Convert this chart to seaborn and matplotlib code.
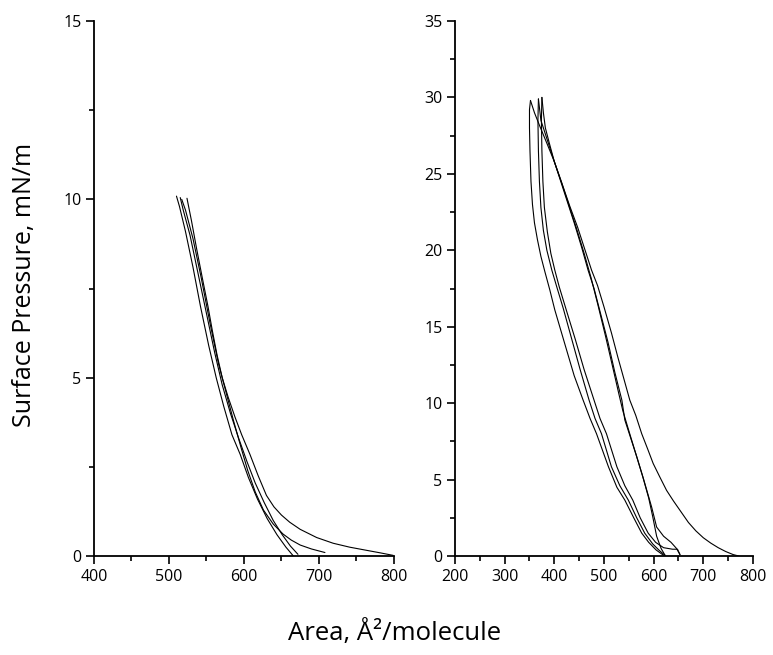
import numpy as np
import pandas as pd
import matplotlib
matplotlib.use('Agg')
import matplotlib.pyplot as plt
from matplotlib.ticker import MultipleLocator
import seaborn as sns

# Left panel isotherms (area, surface pressure)
left_a_x = [799, 782, 764, 741, 719, 697, 675, 661, 650, 640, 630, 619, 608, 597, 588, 579, 571,
            564, 558, 552, 545, 537, 530, 524]
left_a_y = [0.02, 0.09, 0.16, 0.25, 0.36, 0.52, 0.75, 0.95, 1.15, 1.38, 1.7, 2.25, 2.85, 3.4, 3.9, 4.45, 5.0,
            5.65, 6.3, 7.0, 7.74, 8.6, 9.4, 10.03]
left_b_x = [708, 690, 675, 663, 652, 639, 626, 615, 605, 596, 586, 576, 566, 555, 543, 532, 522, 517]
left_b_y = [0.1, 0.2, 0.31, 0.45, 0.62, 0.9, 1.29, 1.8, 2.4, 3.05, 3.8, 4.6, 5.4, 6.5, 7.8, 8.9, 9.7, 10.0]
left_c_x = [672, 662, 651, 639, 627, 615, 604, 593, 582, 571, 561, 550, 539, 528, 519, 515]
left_c_y = [0.05, 0.28, 0.6, 1.0, 1.5, 2.05, 2.65, 3.3, 4.0, 4.8, 5.7, 6.8, 7.9, 9.0, 9.7, 10.05]
left_d_x = [666, 656, 644, 631, 618, 606, 595, 584, 573, 563, 553, 542, 532, 522, 514, 510]
left_d_y = [0.0, 0.25, 0.6, 1.05, 1.6, 2.2, 2.85, 3.4, 4.2, 5.0, 5.9, 7.0, 8.1, 9.1, 9.8, 10.09]

# Right panel: three compression / expansion cycles
comp1_x = [772, 760, 745, 730, 715, 700, 685, 670, 655, 640, 626, 612, 599, 588, 576, 564, 552, 540, 528,
           515, 500, 487, 475, 462, 447, 431, 415, 400, 390, 382, 378, 375]
comp1_y = [0.0, 0.1, 0.3, 0.55, 0.85, 1.2, 1.65, 2.2, 2.9, 3.6, 4.3, 5.2, 6.06, 7.0, 8.0, 9.2, 10.2, 11.6, 13.0,
           14.6, 16.3, 17.7, 18.7, 20.0, 21.5, 22.9, 24.4, 25.8, 27.0, 28.0, 29.0, 30.0]
exp1_x = [375, 374, 375, 377, 380, 386, 393, 401, 410, 425, 442, 460, 480, 492, 505, 526, 542, 558,
          573, 589, 604, 620, 638, 648, 653]
exp1_y = [30.0, 28.5, 26.5, 24.5, 22.8, 21.2, 19.8, 18.7, 17.6, 16.0, 14.2, 12.2, 10.2, 9.0, 8.0, 5.84, 4.6, 3.66,
          2.5, 1.5, 0.9, 0.55, 0.45, 0.45, 0.1]
comp2_x = [653, 646, 635, 620, 606, 596, 580, 566, 553, 542, 536, 522, 508, 492, 480, 468, 455, 440,
           425, 410, 395, 383, 373, 368]
comp2_y = [0.1, 0.5, 0.9, 1.3, 1.9, 3.2, 5.0, 6.5, 7.8, 8.9, 10.2, 12.0, 14.0, 16.0, 17.5, 18.7, 20.2, 21.8,
           23.3, 24.8, 26.3, 27.5, 28.5, 29.9]
exp2_x = [368, 367, 368, 370, 373, 378, 385, 395, 405, 418, 435, 452, 470, 482, 495, 515, 532, 549,
          566, 582, 598, 612, 623]
exp2_y = [29.9, 28.5, 26.5, 24.5, 22.8, 21.3, 20.0, 18.7, 17.6, 16.2, 14.2, 12.2, 10.2, 9.0, 8.0, 5.84, 4.6, 3.66,
          2.5, 1.5, 0.8, 0.35, 0.05]
comp3_x = [623, 615, 606, 598, 590, 578, 564, 550, 538, 530, 518, 503, 488, 474, 460, 445, 430, 415,
           400, 385, 371, 360, 352]
comp3_y = [0.05, 0.5, 1.3, 2.6, 3.8, 5.2, 6.7, 8.2, 9.5, 10.6, 12.3, 14.4, 16.4, 18.2, 19.8, 21.4, 22.9, 24.4,
           25.8, 27.0, 28.1, 29.0, 29.8]
exp3_x = [352, 350, 350, 351, 353, 356, 360, 366, 373, 381, 391, 401, 420, 440, 458, 472, 485, 509, 526,
          542, 560, 576, 590, 605, 620]
exp3_y = [29.8, 29.2, 28.0, 26.5, 24.5, 23.0, 21.8, 20.7, 19.6, 18.6, 17.4, 16.1, 14.0, 11.8, 10.2, 9.0, 8.0, 5.84, 4.5,
          3.66, 2.5, 1.5, 0.9, 0.4, 0.05]


def to_frame(runs):
    parts = []
    for name, xs, ys in runs:
        parts.append(pd.DataFrame({'area': xs, 'pressure': ys, 'run': name}))
    return pd.concat(parts, ignore_index=True)


left_df = to_frame([('a', left_a_x, left_a_y), ('b', left_b_x, left_b_y),
                    ('c', left_c_x, left_c_y), ('d', left_d_x, left_d_y)])
right_df = to_frame([('c1', comp1_x, comp1_y), ('e1', exp1_x, exp1_y),
                     ('c2', comp2_x, comp2_y), ('e2', exp2_x, exp2_y),
                     ('c3', comp3_x, comp3_y), ('e3', exp3_x, exp3_y)])

sns.set_style('ticks')
plt.rcParams['font.family'] = ['Open Sans', 'DejaVu Sans']
plt.rcParams['text.color'] = 'black'

fig = plt.figure(figsize=(7.73, 6.55), dpi=100)
ax1 = fig.add_axes([0.1216, 0.151, 0.388, 0.817])
ax2 = fig.add_axes([0.5886, 0.151, 0.3855, 0.817])

for ax, df in [(ax1, left_df), (ax2, right_df)]:
    sns.lineplot(data=df, x='area', y='pressure', units='run', estimator=None,
                 sort=False, color='black', lw=0.8, ax=ax)
    ax.set_xlabel('')
    ax.set_ylabel('')
    sns.despine(ax=ax)
    for s in ['left', 'bottom']:
        ax.spines[s].set_linewidth(1.3)
        ax.spines[s].set_color('black')
    ax.tick_params(which='major', direction='out', length=6, width=1.2,
                   labelsize=11.5, colors='black', pad=3)
    ax.tick_params(which='minor', direction='out', length=3.5, width=1.2, colors='black')

ax1.set_xlim(400, 800)
ax1.set_ylim(0, 15)
ax1.xaxis.set_major_locator(MultipleLocator(100))
ax1.xaxis.set_minor_locator(MultipleLocator(50))
ax1.yaxis.set_major_locator(MultipleLocator(5))
ax1.yaxis.set_minor_locator(MultipleLocator(2.5))

ax2.set_xlim(200, 800)
ax2.set_ylim(0, 35)
ax2.xaxis.set_major_locator(MultipleLocator(100))
ax2.xaxis.set_minor_locator(MultipleLocator(50))
ax2.yaxis.set_major_locator(MultipleLocator(5))
ax2.yaxis.set_minor_locator(MultipleLocator(2.5))

fig.text(0.032, 0.565, 'Surface Pressure, mN/m', rotation=90, ha='center', va='center',
         fontsize=18, color='black')
fig.text(0.51, 0.034, 'Area, Å²/molecule', ha='center', va='center', fontsize=18.5, color='black')

fig.savefig('out.png', dpi=100)
